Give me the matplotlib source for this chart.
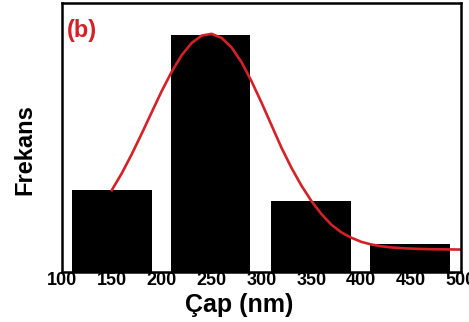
import matplotlib
matplotlib.use("Agg")
import matplotlib.pyplot as plt

plt.rcParams['font.family'] = ['Liberation Sans', 'DejaVu Sans']

# Histogram data
bin_centers = [150, 249, 350, 449]
frequencies = [6.9, 20.0, 6.0, 2.4]
bar_width = 80

# Fitted curve
curve_x = [150, 160, 170, 180, 190, 200, 210, 220, 230, 240, 250, 260, 270, 280,
           290, 300, 310, 320, 330, 340, 350, 360, 370, 380, 390, 400, 410, 420,
           430, 440, 450, 460, 470, 480, 490, 500]
curve_y = [6.91, 8.33, 9.94, 11.68, 13.48, 15.26, 16.89, 18.28, 19.32, 19.94, 20.09,
           19.75, 18.95, 17.7, 16.1, 14.3, 12.4, 10.5, 8.8, 7.3, 6.0, 4.9, 4.0, 3.35,
           2.9, 2.55, 2.33, 2.18, 2.08, 2.02, 1.98, 1.95, 1.93, 1.92, 1.91, 1.90]

xticks = [100, 150, 200, 250, 300, 350, 400, 450, 500]

fig = plt.figure(figsize=(4.69, 3.22), dpi=100)
ax = fig.add_axes([0.132, 0.155, 0.851, 0.836])

ax.bar(bin_centers, frequencies, width=bar_width, color='black')
ax.plot(curve_x, curve_y, color='#d42027', lw=1.9)

ax.set_xlim(100, 500)
ax.set_ylim(0, 22.7)
ax.set_xticks(xticks)
ax.set_xticklabels([str(t) for t in xticks], fontsize=13, fontweight='bold')
ax.tick_params(axis='x', length=0, pad=0)
ax.set_yticks([])
for s in ax.spines.values():
    s.set_linewidth(1.8)

ax.set_xlabel('Çap (nm)', fontsize=18, fontweight='bold')
ax.xaxis.set_label_coords(0.444, -0.078, transform=ax.transAxes)
ax.xaxis.label.set_va('top')
ax.set_ylabel('Frekans', fontsize=17, fontweight='bold')
ax.yaxis.set_label_coords(-0.065, 0.454, transform=ax.transAxes)
ax.text(0.012, 0.94, '(b)', transform=ax.transAxes, color='#d42027',
        fontsize=17, fontweight='bold', va='top', ha='left')

fig.savefig('out.png', dpi=100)
